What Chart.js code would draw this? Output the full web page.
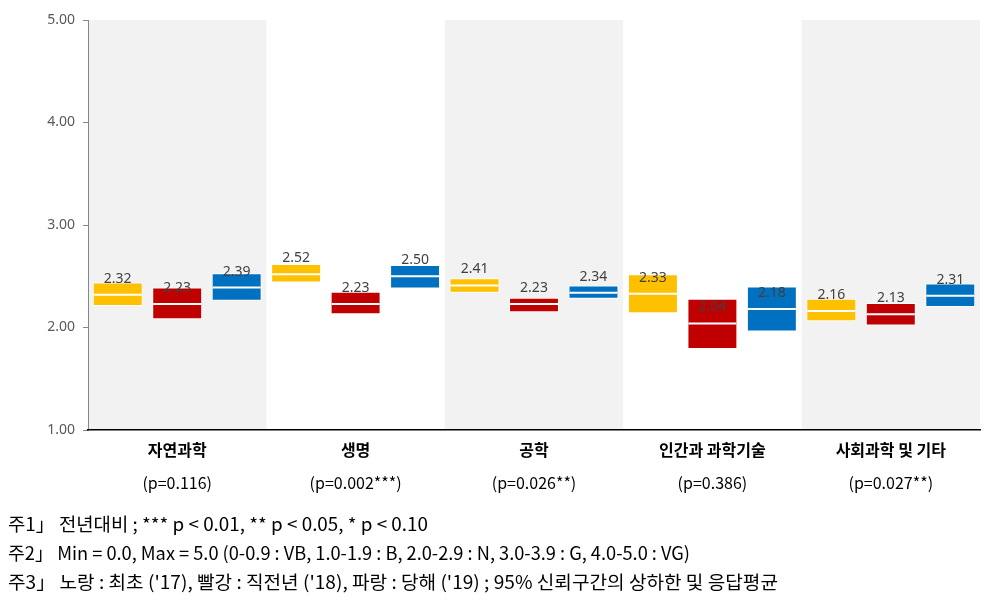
<!DOCTYPE html>
<html>
<head>
<meta charset="utf-8">
<script src="https://cdn.jsdelivr.net/npm/chart.js@4/dist/chart.umd.min.js"></script>
<style>
html,body{margin:0;padding:0;background:#fff;}
#wrap{width:989px;height:609px;position:relative;}
</style>
</head>
<body>
<div id="wrap"><canvas id="c" width="989" height="609"></canvas></div>
<script>
const categories = ['자연과학', '생명', '공학', '인간과 과학기술', '사회과학 및 기타'];
const pLabels = ['(p=0.116)', '(p=0.002***)', '(p=0.026**)', '(p=0.386)', '(p=0.027**)'];
const seriesNames = ["'17", "'18", "'19"];
const mean17 = [2.32, 2.52, 2.41, 2.33, 2.16];
const low17  = [2.21, 2.44, 2.34, 2.14, 2.06];
const high17 = [2.44, 2.62, 2.48, 2.52, 2.28];
const mean18 = [2.23, 2.23, 2.23, 2.04, 2.13];
const low18  = [2.08, 2.13, 2.15, 1.79, 2.02];
const high18 = [2.39, 2.35, 2.29, 2.28, 2.24];
const mean19 = [2.39, 2.50, 2.34, 2.18, 2.31];
const low19  = [2.26, 2.38, 2.28, 1.96, 2.20];
const high19 = [2.53, 2.61, 2.41, 2.40, 2.43];
const yTicks = [1, 2, 3, 4, 5];
const notes = [
  '주1」 전년대비 ; *** p < 0.01, ** p < 0.05, * p < 0.10',
  '주2」 Min = 0.0, Max = 5.0 (0-0.9 : VB, 1.0-1.9 : B, 2.0-2.9 : N, 3.0-3.9 : G, 4.0-5.0 : VG)',
  '주3」 노랑 : 최초 (\'17), 빨강 : 직전년 (\'18), 파랑 : 당해 (\'19) ; 95% 신뢰구간의 상하한 및 응답평균'
];

const colors = ['#FFC000', '#C00000', '#0070C0'];
const lows = [low17, low18, low19];
const highs = [high17, high18, high19];
const means = [mean17, mean18, mean19];

const datasets = seriesNames.map((name, k) => ({
  label: name,
  data: lows[k].map((l, i) => [l, highs[k][i]]),
  means: means[k],
  backgroundColor: colors[k],
  borderColor: '#ffffff',
  borderWidth: 1,
  borderSkipped: false,
  categoryPercentage: 1.0,
  barPercentage: 0.84
}));

const bandPlugin = {
  id: 'bands',
  beforeDraw(chart) {
    const {ctx, chartArea, scales} = chart;
    const x = scales.x;
    const w = (chartArea.right - chartArea.left) / categories.length;
    ctx.save();
    ctx.fillStyle = '#F2F2F2';
    categories.forEach((c, i) => {
      if (i % 2 === 0) {
        const cx = x.getPixelForValue(i);
        let l = Math.max(cx - w / 2, chartArea.left + 1);
        let r = Math.min(cx + w / 2, chartArea.right);
        ctx.fillRect(l, chartArea.top, r - l, chartArea.bottom - chartArea.top);
      }
    });
    ctx.restore();
  }
};

const meanPlugin = {
  id: 'means',
  afterDatasetsDraw(chart) {
    const {ctx, scales} = chart;
    const y = scales.y;
    ctx.save();
    chart.data.datasets.forEach((ds, k) => {
      const meta = chart.getDatasetMeta(k);
      meta.data.forEach((el, i) => {
        const m = ds.means[i];
        const py = y.getPixelForValue(m);
        const half = el.width / 2;
        ctx.strokeStyle = '#ffffff';
        ctx.lineWidth = 2;
        ctx.beginPath();
        ctx.moveTo(el.x - half + 1, py);
        ctx.lineTo(el.x + half - 1, py);
        ctx.stroke();
        ctx.fillStyle = '#404040';
        ctx.font = '14px "Noto Sans"';
        ctx.textAlign = 'center';
        ctx.textBaseline = 'middle';
        ctx.fillText(m.toFixed(2), el.x, py - 16);
      });
    });
    ctx.restore();
  },
  afterDraw(chart) {
    const ctx = chart.ctx;
    const ys = [524, 553, 582];
    const ws = [420, 682, 770];
    notes.forEach((t, i) => {
      ctx.save();
      ctx.fillStyle = '#000000';
      ctx.font = '18px "Noto Sans CJK KR"';
      ctx.textAlign = 'left';
      ctx.textBaseline = 'middle';
      const mw = ctx.measureText(t).width;
      const sx = ws[i] / mw;
      ctx.translate(8, ys[i]);
      ctx.scale(sx, 1);
      ctx.fillText(t, 0, 0);
      ctx.restore();
    });
  }
};

new Chart(document.getElementById('c'), {
  type: 'bar',
  data: { labels: categories, datasets },
  options: {
    responsive: false,
    animation: false,
    layout: { padding: { left: 0, top: 20, right: 9, bottom: 114 } },
    plugins: { legend: { display: false }, tooltip: { enabled: false } },
    scales: {
      y: {
        min: 1, max: 5,
        afterBuildTicks(s) { s.ticks = yTicks.map(v => ({ value: v })); },
        afterFit(s) { s.width = 88; },
        ticks: {
          callback: v => Number(v).toFixed(2),
          color: '#595959',
          font: { family: 'Noto Sans', size: 14 },
          padding: 8
        },
        grid: { display: true, drawOnChartArea: false, drawTicks: true, tickLength: 5, color: '#868686' },
        border: { display: true, color: '#868686', width: 1 }
      },
      x: {
        weight: 0,
        afterFit(s) { s.height = 35; },
        grid: { display: false },
        border: { display: true, color: '#000000', width: 1.5 },
        ticks: {
          color: '#000000',
          font: { family: 'Noto Sans CJK KR', size: 16, weight: 'bold' },
          padding: 2,
          maxRotation: 0
        }
      },
      x2: {
        type: 'category',
        labels: pLabels,
        position: 'bottom',
        weight: 1,
        afterFit(s) { s.height = 30; },
        grid: { display: false },
        border: { display: false },
        ticks: {
          color: '#000000',
          font: { family: 'Noto Sans CJK KR', size: 16 },
          padding: 0,
          maxRotation: 0
        }
      }
    }
  },
  plugins: [bandPlugin, meanPlugin]
});
</script>
</body>
</html>
